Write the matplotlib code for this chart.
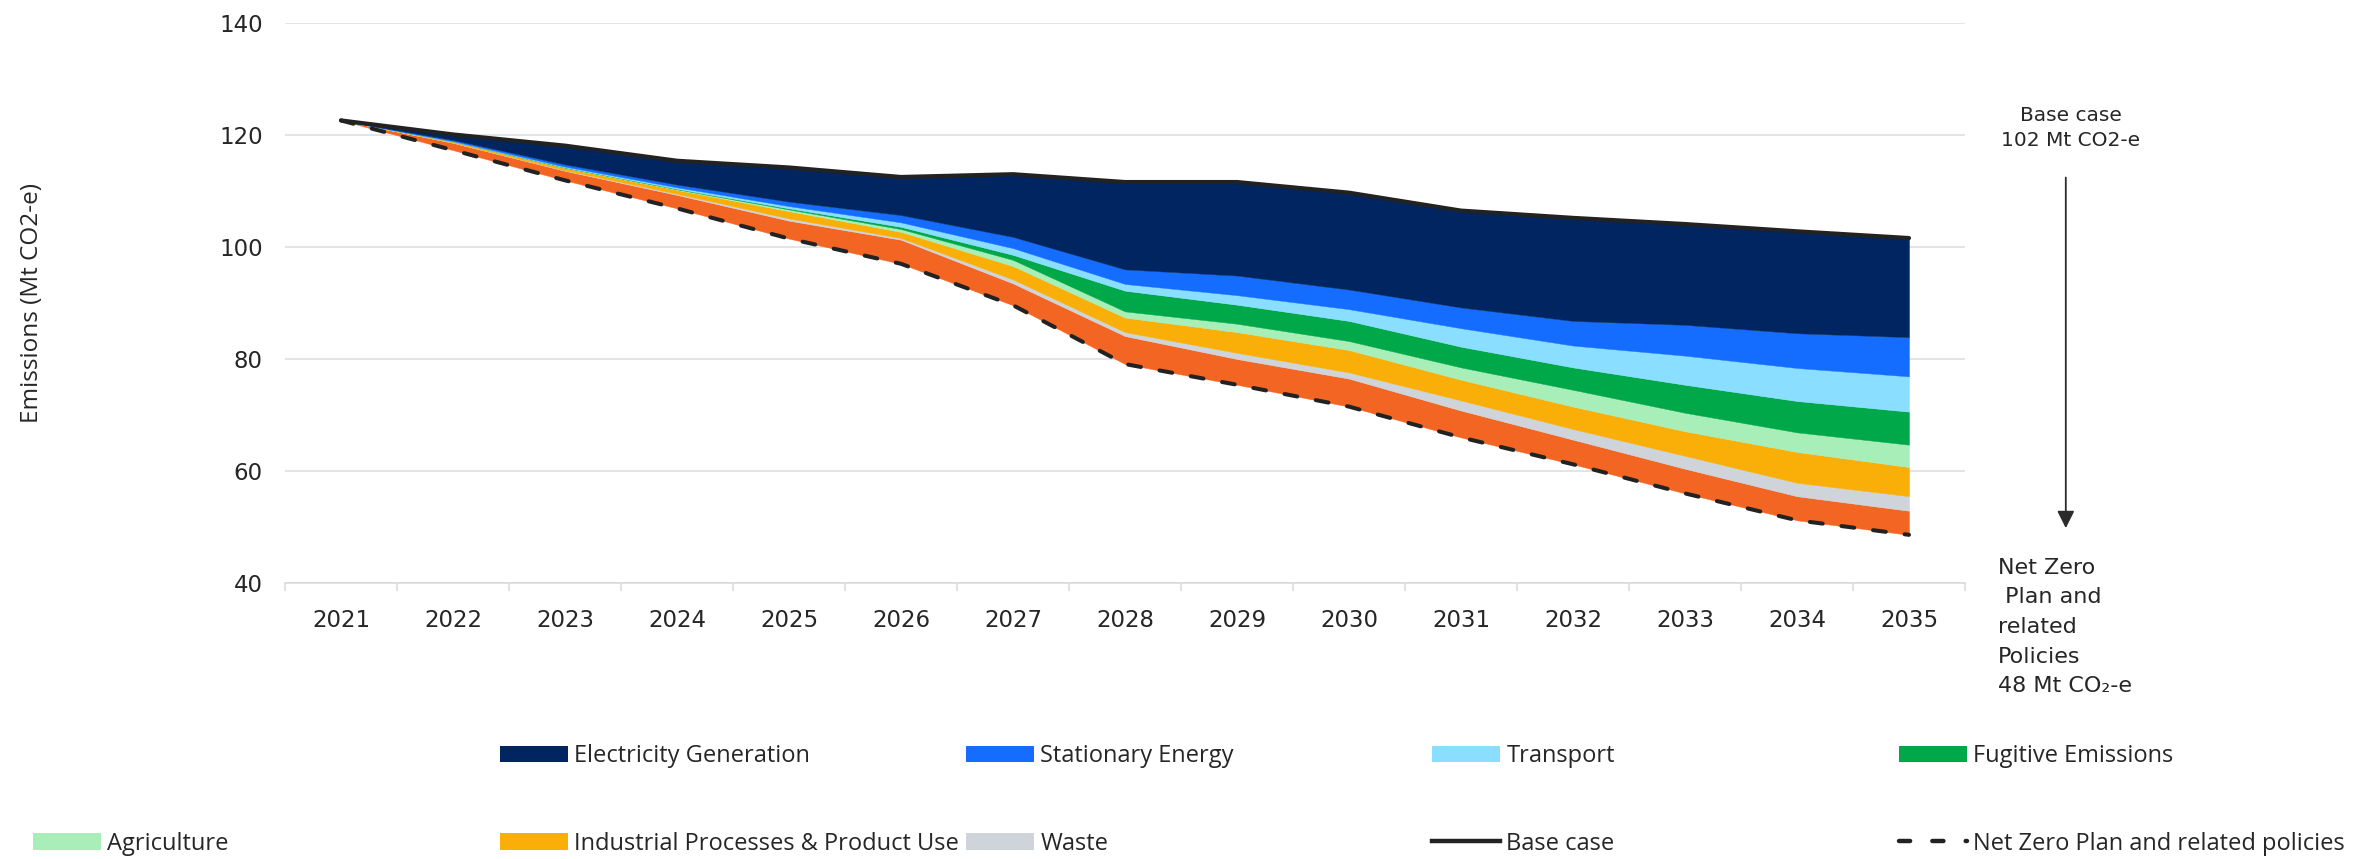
import matplotlib

matplotlib.use("Agg")
import matplotlib.pyplot as plt
import numpy as np
from matplotlib.lines import Line2D
from matplotlib.patches import Patch

# ------------------------------------------------------------------ data
years = [str(y) for y in range(2021, 2036)]

base_case = [122.6, 120.1, 118.1, 115.4, 114.2, 112.5, 113.0, 111.6,
             111.6, 109.7, 106.5, 105.2, 104.1, 102.8, 101.6]
net_zero = [122.6, 117.3, 111.9, 106.9, 101.5, 97.0, 89.6, 79.1,
            75.4, 71.5, 66.0, 61.2, 56.0, 51.2, 48.6]

# abatement wedges stacked on the net-zero path (bottom -> top)
other_measures = [0, 1.3, 1.7, 2.4, 3.2, 4.3, 3.9, 5.0, 4.6, 5.0, 4.8, 4.4, 4.4, 4.3, 4.3]
waste = [0, 0.05, 0.1, 0.2, 0.4, 0.3, 0.7, 0.7, 1.1, 1.1, 1.8, 1.9, 2.3, 2.4, 2.6]
industrial = [0, 0.2, 0.4, 0.7, 1.3, 1.1, 2.4, 2.6, 3.7, 4.0, 3.7, 4.0, 4.4, 5.5, 5.2]
agriculture = [0, 0.0, 0.05, 0.1, 0.3, 0.5, 1.1, 1.1, 1.5, 1.6, 2.2, 3.0, 3.3, 3.5, 4.0]
fugitive = [0, 0.0, 0.05, 0.1, 0.2, 0.4, 0.9, 3.7, 3.4, 3.6, 3.7, 4.0, 5.0, 5.6, 5.9]
transport = [0, 0.05, 0.15, 0.25, 0.4, 0.8, 1.2, 1.2, 1.7, 2.1, 3.3, 3.9, 5.2, 5.9, 6.3]
stationary = [0, 0.2, 0.4, 0.5, 0.8, 1.3, 2.0, 2.6, 3.5, 3.5, 3.7, 4.4, 5.5, 6.2, 7.0]
electricity = [0, 1.0, 3.35, 4.25, 6.1, 6.8, 11.2, 15.6, 16.7, 17.3, 17.3, 18.4, 18.0, 18.2, 17.7]

y_ticks = [40, 60, 80, 100, 120, 140]

# ------------------------------------------------------------------ style
INK = "#262626"
GRID = "#DADDE2"
W, H = 2359, 859

layers = [
    (other_measures, "#F26522", ""),
    (waste, "#CED4D9", "Waste"),
    (industrial, "#F9AF07", "Industrial Processes & Product Use"),
    (agriculture, "#A8EEB8", "Agriculture"),
    (fugitive, "#00A84A", "Fugitive Emissions"),
    (transport, "#8ADEFF", "Transport"),
    (stationary, "#156DFF", "Stationary Energy"),
    (electricity, "#002560", "Electricity Generation"),
]

fig = plt.figure(figsize=(W / 100, H / 100), dpi=100)
ax = fig.add_axes([285 / W, (H - 583) / H, 1680 / W, 560 / H])

x = np.arange(len(years))
lower = np.array(net_zero, dtype=float)
handles = {}
for vals, color, label in layers:
    upper = lower + np.array(vals, dtype=float)
    ax.fill_between(x, lower, upper, facecolor=color, edgecolor=color, lw=0.3, zorder=2)
    handles[label] = Patch(facecolor=color, edgecolor="none", label=label)
    lower = upper

dash = (0, (3.2, 4.7))
ax.plot(x, net_zero, color="#222222", lw=2.9, ls=dash, dash_capstyle="round", zorder=4)
ax.plot(x, base_case, color="#222222", lw=3.0, solid_capstyle="round", zorder=5)

# ------------------------------------------------------------------ axes
ax.set_xlim(-0.5, len(years) - 0.5)
ax.set_ylim(40, 140)
ax.set_yticks(y_ticks)
ax.set_xticks(x)
ax.set_xticklabels(years)
ax.set_xticks(np.arange(-0.5, len(years), 1), minor=True)
ax.tick_params(axis="x", which="major", length=0, pad=19, labelsize=16.5, colors=INK)
ax.tick_params(axis="x", which="minor", length=6, width=1.1, color="#D9D9D9")
ax.tick_params(axis="y", length=0, pad=16, labelsize=16.5, colors=INK)
for lab in ax.get_xticklabels() + ax.get_yticklabels():
    lab.set_family("DejaVu Sans")

ax.yaxis.grid(True, color=GRID, lw=1.1)
ax.set_axisbelow(True)
for side in ("left", "right", "top"):
    ax.spines[side].set_visible(False)
ax.spines["bottom"].set_color("#D9D9D9")
ax.spines["bottom"].set_linewidth(1.1)

ax.set_ylabel("Emissions (Mt CO2-e)", fontsize=17.5, family="Open Sans", color=INK)
ax.yaxis.set_label_coords((44 - 285) / 1680, 0.5)

# ------------------------------------------------------------------ annotations
ax.annotate("", xy=(1.060, 0.093), xytext=(1.060, 0.729), xycoords="axes fraction",
            arrowprops=dict(arrowstyle="-|>", lw=1.3, color="#2B2B2B", mutation_scale=26))
ax.text(1.063, 0.8125, "Base case\n102 Mt CO2-e", transform=ax.transAxes, ha="center",
        va="center", fontsize=14.5, family="DejaVu Sans", color=INK, linespacing=1.45)
ax.text(1.0196, 0.045, "Net Zero\n Plan and\nrelated\nPolicies\n48 Mt CO\u2082-e",
        transform=ax.transAxes, ha="left", va="top", fontsize=16, family="DejaVu Sans",
        color=INK, linespacing=1.6)

# ------------------------------------------------------------------ legend
handles["Base case"] = Line2D([], [], color="#222222", lw=3.2, label="Base case")
handles["Net Zero Plan and related policies"] = Line2D(
    [], [], color="#222222", lw=3.2, ls=(0, (2.5, 5.0)), dash_capstyle="round",
    label="Net Zero Plan and related policies")
handles[""] = Patch(facecolor="none", edgecolor="none", label="")

columns = [
    ["", "Agriculture"],
    ["Electricity Generation", "Industrial Processes & Product Use"],
    ["Stationary Energy", "Waste"],
    ["Transport", "Base case"],
    ["Fugitive Emissions", "Net Zero Plan and related policies"],
]
col_x = [33, 500, 966, 1432, 1899]
for cx, names in zip(col_x, columns):
    fig.legend(handles=[handles[n] for n in names], loc="center left",
               bbox_to_anchor=(cx / W, 1 - 800 / H), frameon=False, borderpad=0,
               borderaxespad=0, handlelength=2.9, handletextpad=0.25, labelspacing=2.68,
               prop={"family": "Open Sans", "size": 17}, labelcolor=INK)

fig.savefig("out.png", dpi=100)
